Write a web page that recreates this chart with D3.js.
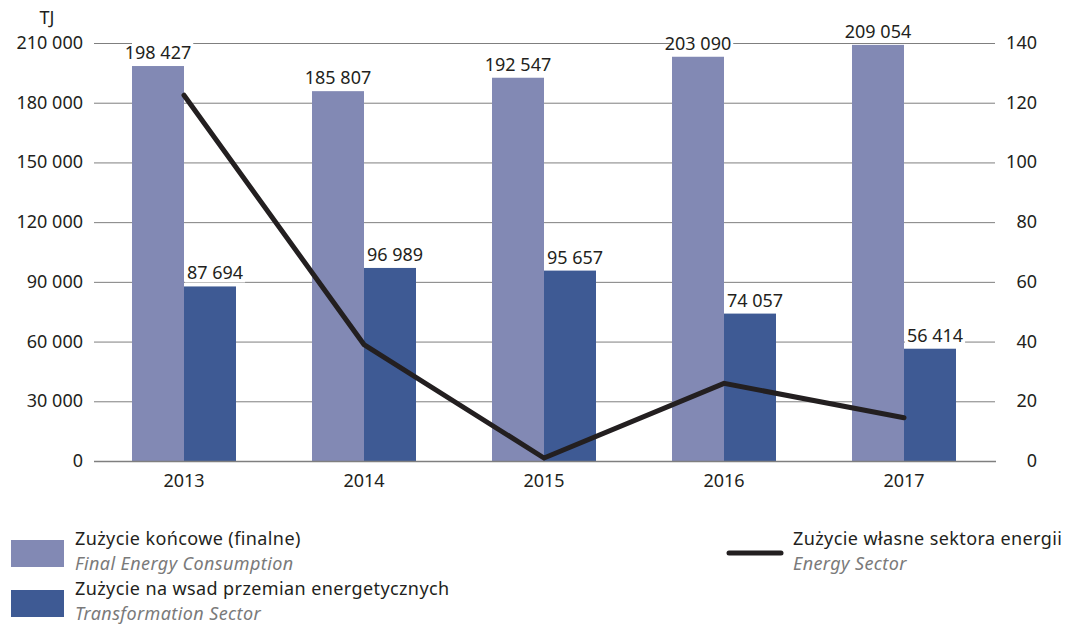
<!DOCTYPE html>
<html><head><meta charset="utf-8">
<script src="https://cdn.jsdelivr.net/npm/d3@7"></script>
<style>body{margin:0;background:#fff}svg{display:block}text{font-family:"Noto Sans",sans-serif}</style>
</head><body>
<svg id="c" width="1068" height="625"></svg>
<script>
const years = ["2013","2014","2015","2016","2017"];
const finalConsumption = [198427,185807,192547,203090,209054];
const transformation = [87694,96989,95657,74057,56414];
const energySector = [122.5,39,1,26,14.5];
const leftTicks = [0,30000,60000,90000,120000,150000,180000,210000];
const rightTicks = [0,20,40,60,80,100,120,140];

const svg = d3.select("#c");
const fmt = v => d3.format(",")(v).replace(/,/g," ");
const x = d3.scaleBand().domain(years).range([94,994]).paddingInner(76/180).paddingOuter(38/180);
const yL = d3.scaleLinear().domain([0,210000]).range([461,43]);
const yR = d3.scaleLinear().domain([0,140]).range([461,43]);
const cLight="#8289b4", cDark="#3e5a94";
const bw = x.bandwidth()/2;
const fs = 18;

// gridlines
svg.append("g").selectAll("line").data(leftTicks.slice(1)).join("line")
 .attr("x1",94).attr("x2",995).attr("y1",d=>yL(d)+0.5).attr("y2",d=>yL(d)+0.5)
 .attr("stroke","#7f7f7f").attr("stroke-width",1);

// left axis labels
svg.append("g").selectAll("text").data(leftTicks).join("text")
 .attr("x",83).attr("y",d=>yL(d)+6).attr("text-anchor","end")
 .attr("font-size",fs).attr("fill","#231f20").text(d=>fmt(d));
svg.append("text").attr("x",47).attr("y",24).attr("text-anchor","middle").attr("font-size",fs).attr("fill","#231f20").text("TJ");
// right axis labels
svg.append("g").selectAll("text").data(rightTicks).join("text")
 .attr("x",1037).attr("y",d=>yR(d)+6).attr("text-anchor","end")
 .attr("font-size",fs).attr("fill","#231f20").text(d=>d);

// bars
const g = svg.append("g");
g.selectAll(".b1").data(years).join("rect").attr("class","b1")
 .attr("x",d=>x(d)).attr("width",bw).attr("y",(d,i)=>yL(finalConsumption[i]))
 .attr("height",(d,i)=>yL(0)-yL(finalConsumption[i])).attr("fill",cLight);
g.selectAll(".b2").data(years).join("rect").attr("class","b2")
 .attr("x",d=>x(d)+bw).attr("width",bw).attr("y",(d,i)=>yL(transformation[i]))
 .attr("height",(d,i)=>yL(0)-yL(transformation[i])).attr("fill",cDark);

// baseline
svg.append("line").attr("x1",94).attr("x2",996).attr("y1",yL(0)+0.5).attr("y2",yL(0)+0.5).attr("stroke","#7f7f7f").attr("stroke-width",1.3);

// bar labels with white background
function labels(data, off, shift){
  const lg = svg.append("g");
  years.forEach((yv,i)=>{
    const cx = x(yv)+off+bw/2+shift, by = yL(data[i])-7;
    const t = lg.append("text").attr("x",cx).attr("y",by).attr("text-anchor","middle")
      .attr("font-size",fs).attr("fill","#231f20").text(fmt(data[i]));
    const bb = t.node().getBBox();
    const x0 = Math.max(bb.x-2, x(yv)+off);
    lg.insert("rect","text").attr("x",x0).attr("y",bb.y+1).attr("width",bb.x+bb.width+2-x0).attr("height",bb.height-3).attr("fill","#fff");
  });
}
labels(finalConsumption,0,0);
labels(transformation,bw,5);

// line
const line = d3.line().x((d,i)=>x(years[i])+bw).y(d=>yR(d));
svg.append("path").datum(energySector).attr("d",line).attr("fill","none")
 .attr("stroke","#231f20").attr("stroke-width",5).attr("stroke-linecap","round").attr("stroke-linejoin","miter");

// x labels
svg.append("g").selectAll("text").data(years).join("text")
 .attr("x",d=>x(d)+bw).attr("y",487).attr("text-anchor","middle")
 .attr("font-size",fs).attr("fill","#231f20").text(d=>d);

// legend
const leg = [
 {type:"rect",color:cLight,x:11,y:540,t1:"Zużycie końcowe (finalne)",t2:"Final Energy Consumption"},
 {type:"rect",color:cDark,x:11,y:590,t1:"Zużycie na wsad przemian energetycznych",t2:"Transformation Sector"},
 {type:"line",color:"#231f20",x:727,y:540,t1:"Zużycie własne sektora energii",t2:"Energy Sector"}
];
leg.forEach(l=>{
  if(l.type==="rect") svg.append("rect").attr("x",l.x).attr("y",l.y).attr("width",53).attr("height",27).attr("fill",l.color);
  else svg.append("line").attr("x1",l.x+2).attr("x2",l.x+54).attr("y1",l.y+13).attr("y2",l.y+13).attr("stroke",l.color).attr("stroke-width",5).attr("stroke-linecap","round");
  const tx = l.x + (l.type==="rect"?64:66);
  svg.append("text").attr("x",tx).attr("y",l.y+5).attr("font-size",18).attr("letter-spacing",0.4).attr("fill","#231f20").text(l.t1);
  svg.append("text").attr("x",tx).attr("y",l.y+30).attr("font-size",18).attr("letter-spacing",0.4).attr("font-style","italic").attr("fill","#7a7a7a").text(l.t2);
});
</script>
</body></html>
